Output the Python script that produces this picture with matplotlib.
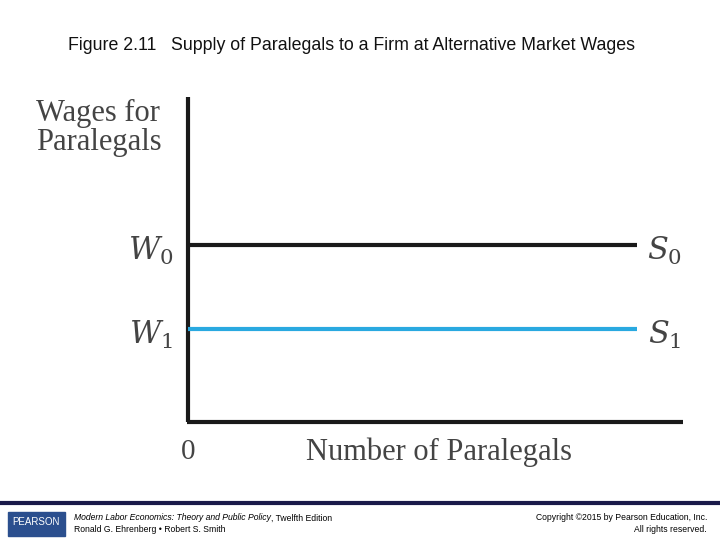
import matplotlib
matplotlib.use("Agg")
import matplotlib.pyplot as plt
from matplotlib.patches import Rectangle
plt.rcParams["mathtext.fontset"] = "dejavuserif"

# data: supply curves (horizontal wage levels)
series = ["S0", "S1"]
wage_levels = [245, 329]          # vertical position of each wage (pixel scale)
line_colors = ["#1a1a1a", "#29a9e0"]

fig = plt.figure(figsize=(7.2, 5.4), dpi=100)
ax = fig.add_axes([0, 0, 1, 1])
ax.set_xlim(0, 720); ax.set_ylim(540, 0); ax.axis("off")

ax.text(351, 46, "Figure 2.11   Supply of Paralegals to a Firm at Alternative Market Wages",
        ha="center", va="center", fontsize=12.8, family="Liberation Sans",
        color="#111")
ax.text(36, 128, "Wages for\nParalegals", fontsize=22, family="Liberation Serif",
        color="#444", va="center", ha="left", linespacing=1.0)

# axes
ax.plot([188, 188], [97, 422], color="#1a1a1a", lw=3, solid_capstyle="butt")
ax.plot([187, 683], [422, 422], color="#1a1a1a", lw=3, solid_capstyle="butt")
ax.text(188, 452, "0", fontsize=21, family="Liberation Serif", color="#444", ha="center", va="center")
ax.text(439, 452, "Number of Paralegals", fontsize=22, family="Liberation Serif", color="#444",
        ha="center", va="center")

for i, (s, y, c) in enumerate(zip(series, wage_levels, line_colors)):
    ax.plot([188, 637], [y, y], color=c, lw=3, solid_capstyle="butt")
    ax.text(151, y + 6, rf"$W_{i}$", fontsize=22, color="#444", ha="center", va="center")
    ax.text(665, y + 6, rf"$S_{i}$", fontsize=22, color="#444", ha="center", va="center")

# footer
ax.plot([0, 720], [503, 503], color="#1a1a4a", lw=3)
ax.add_patch(Rectangle((8, 512), 57, 24, color="#2b4f8e"))
ax.text(36, 522, "PEARSON", color="white", fontsize=7, ha="center", va="center", family="Liberation Sans")
t = ax.text(74, 518, "Modern Labor Economics: Theory and Public Policy", fontsize=6.2, style="italic",
            va="center", family="Liberation Sans")
ax.annotate(", Twelfth Edition", xycoords=t, xy=(1, 0.5), va="center", fontsize=6.2,
            family="Liberation Sans")
ax.text(74, 530, "Ronald G. Ehrenberg • Robert S. Smith", fontsize=6.2, va="center", family="Liberation Sans")
ax.text(707, 518, "Copyright ©2015 by Pearson Education, Inc.", fontsize=6.2, va="center", ha="right",
        family="Liberation Sans")
ax.text(707, 530, "All rights reserved.", fontsize=6.2, va="center", ha="right", family="Liberation Sans")

fig.savefig("out.png", dpi=100)
